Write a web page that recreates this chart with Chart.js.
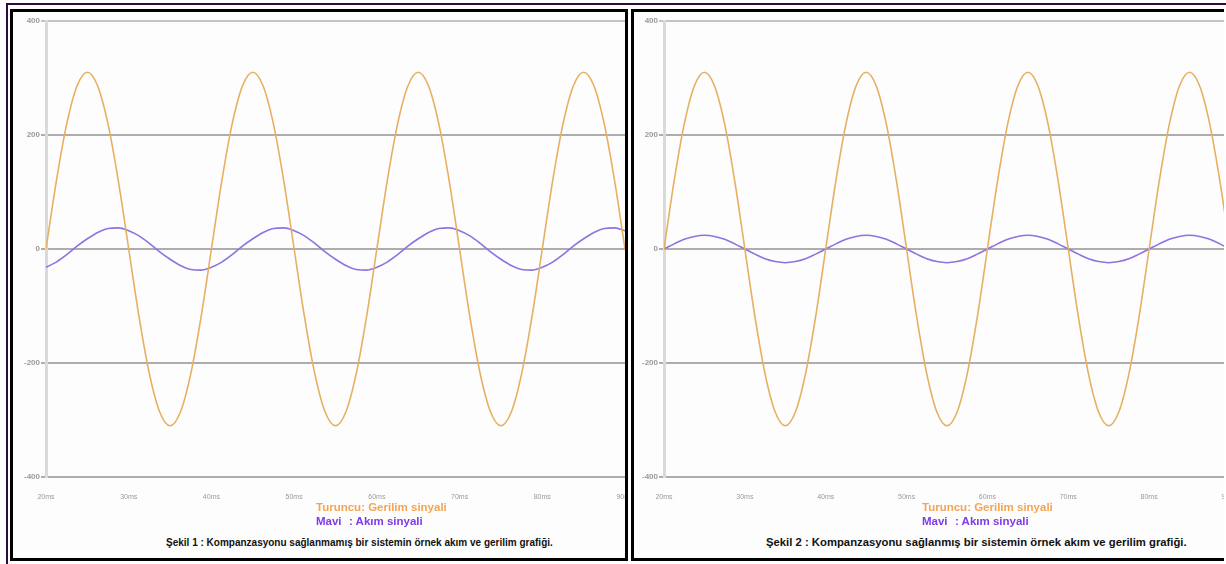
<!DOCTYPE html>
<html>
<head>
<meta charset="utf-8">
<script src="https://cdn.jsdelivr.net/npm/chart.js@4.4.0/dist/chart.umd.min.js"></script>
<style>
body { margin:0; width:1226px; height:564px; background:#fff; position:relative; overflow:hidden; font-family:"Liberation Sans", Arial, sans-serif; }
#rahmen-oben { position:absolute; left:6px; top:3px; width:1220px; height:2px; background:#2e0b3e; }
#rahmen-links { position:absolute; left:6px; top:3px; width:2px; height:561px; background:#2e0b3e; }
.panel { position:absolute; top:9px; height:552px; box-sizing:border-box; border:3px solid #000; overflow:hidden; background:#fdfdfd; }
#panel1 { left:10px; width:618px; }
#panel2 { left:631px; width:593px; border-right:none; }
.chart-box { position:absolute; left:0; top:0; }
.legende { position:absolute; font-size:11.5px; font-weight:bold; line-height:14px; white-space:nowrap; }
.orange { color:#f4a552; }
.lila { color:#7d3ce6; }
.lila .name { display:inline-block; width:33px; }
.beschriftung { position:absolute; font-size:10px; font-weight:bold; color:#111; white-space:nowrap; }
</style>
</head>
<body>
<div id="rahmen-oben"></div>
<div id="rahmen-links"></div>

<div class="panel" id="panel1">
  <div class="chart-box"><canvas id="chart1" width="640" height="490"></canvas></div>
  <div class="legende" style="left:303px; top:488px;">
    <div class="orange">Turuncu: Gerilim sinyali</div>
    <div class="lila"><span class="name">Mavi</span>: Akım sinyali</div>
  </div>
  <div class="beschriftung" style="left:153px; top:525px;">Şekil 1 : Kompanzasyonu sağlanmamış bir sistemin örnek akım ve gerilim grafiği.</div>
</div>

<div class="panel" id="panel2">
  <div class="chart-box"><canvas id="chart2" width="620" height="490"></canvas></div>
  <div class="legende" style="left:288px; top:488px;">
    <div class="orange">Turuncu: Gerilim sinyali</div>
    <div class="lila"><span class="name">Mavi</span>: Akım sinyali</div>
  </div>
  <div class="beschriftung" style="left:132px; top:524px; font-size:11.3px;">Şekil 2 : Kompanzasyonu sağlanmış bir sistemin örnek akım ve gerilim grafiği.</div>
</div>

<script>
// Zeitachse in ms
const zeitMs = [20, 21.25, 22.5, 23.75, 25, 26.25, 27.5, 28.75, 30, 31.25, 32.5, 33.75, 35, 36.25, 37.5, 38.75,
    40, 41.25, 42.5, 43.75, 45, 46.25, 47.5, 48.75, 50, 51.25, 52.5, 53.75, 55, 56.25, 57.5, 58.75,
    60, 61.25, 62.5, 63.75, 65, 66.25, 67.5, 68.75, 70, 71.25, 72.5, 73.75, 75, 76.25, 77.5, 78.75,
    80, 81.25, 82.5, 83.75, 85, 86.25, 87.5, 88.75, 90];

// Gerilim (beide Grafiken gleich)
const gerilim = [0, 119, 219, 286, 310, 286, 219, 119, 0, -119, -219, -286, -310, -286, -219, -119,
    0, 119, 219, 286, 310, 286, 219, 119, 0, -119, -219, -286, -310, -286, -219, -119,
    0, 119, 219, 286, 310, 286, 219, 119, 0, -119, -219, -286, -310, -286, -219, -119,
    0, 119, 219, 286, 310, 286, 219, 119, 0];

// Akim ohne Kompanzasyon (nacheilend)
const akim1 = [-32, -23, -10, 5, 18, 29, 36, 37, 32, 23, 10, -5, -18, -29, -36, -37,
    -32, -23, -10, 5, 18, 29, 36, 37, 32, 23, 10, -5, -18, -29, -36, -37,
    -32, -23, -10, 5, 18, 29, 36, 37, 32, 23, 10, -5, -18, -29, -36, -37,
    -32, -23, -10, 5, 18, 29, 36, 37, 32];

// Akim mit Kompanzasyon (in Phase)
const akim2 = [0, 9, 17, 22, 24, 22, 17, 9, 0, -9, -17, -22, -24, -22, -17, -9,
    0, 9, 17, 22, 24, 22, 17, 9, 0, -9, -17, -22, -24, -22, -17, -9,
    0, 9, 17, 22, 24, 22, 17, 9, 0, -9, -17, -22, -24, -22, -17, -9,
    0, 9, 17, 22, 24, 22, 17, 9, 0];

const xTicks = [20, 30, 40, 50, 60, 70, 80, 90];
const yTicks = [-400, -200, 0, 200, 400];

function punkte(werte) {
    return zeitMs.map((t, i) => ({ x: t, y: werte[i] }));
}

function zeichneChart(id, akim, achseBreite, paddingRechts) {
    return new Chart(document.getElementById(id), {
        type: "line",
        data: {
            datasets: [
                {
                    data: punkte(gerilim),
                    borderColor: "#e6b062",
                    borderWidth: 1.6,
                    pointRadius: 0,
                    cubicInterpolationMode: "monotone"
                },
                {
                    data: punkte(akim),
                    borderColor: "#9072e0",
                    borderWidth: 1.6,
                    pointRadius: 0,
                    cubicInterpolationMode: "monotone"
                }
            ]
        },
        options: {
            responsive: false,
            animation: false,
            layout: { padding: { top: 9, right: paddingRechts, bottom: 3, left: 0 } },
            plugins: { legend: { display: false }, tooltip: { enabled: false } },
            scales: {
                x: {
                    type: "linear",
                    min: 20,
                    max: 90,
                    afterFit: s => { s.height = 22; },
                    afterBuildTicks: s => { s.ticks = xTicks.map(v => ({ value: v })); },
                    grid: { display: false },
                    border: { display: false },
                    ticks: {
                        padding: 8,
                        maxRotation: 0,
                        autoSkip: false,
                        color: "#9a9a9a",
                        font: { size: 7, family: "Liberation Sans" },
                        callback: v => v + "ms"
                    }
                },
                y: {
                    min: -400,
                    max: 400,
                    afterFit: s => { s.width = achseBreite; },
                    afterBuildTicks: s => { s.ticks = yTicks.map(v => ({ value: v })); },
                    grid: {
                        color: ctx => ctx.tick && ctx.tick.value === 400 ? "#c4c4c4" : "#adadad",
                        lineWidth: 2,
                        tickLength: 5
                    },
                    border: { color: "#dadada", width: 3 },
                    ticks: {
                        padding: 1,
                        color: "#9a9a9a",
                        font: { size: 8, family: "Liberation Sans", weight: "bold" }
                    }
                }
            }
        }
    });
}

zeichneChart("chart1", akim1, 33, 28);
zeichneChart("chart2", akim2, 30, 24);
</script>
</body>
</html>
